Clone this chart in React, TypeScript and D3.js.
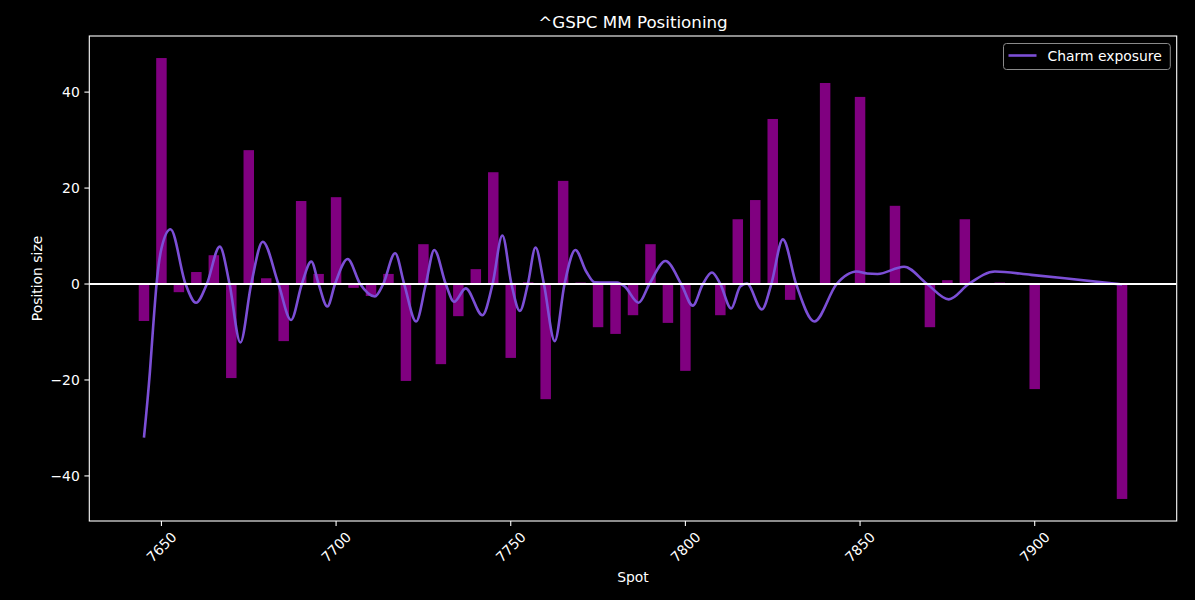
import React from 'react';
import * as d3 from 'd3';

// Bars: market-maker position size by strike
const strikes = [
  7645, 7650, 7655, 7660, 7665, 7670, 7675, 7680, 7685, 7690, 7695, 7700,
  7705, 7710, 7715, 7720, 7725, 7730, 7735, 7740, 7745, 7750, 7755, 7760,
  7765, 7770, 7775, 7780, 7785, 7790, 7795, 7800, 7810, 7815, 7820, 7825,
  7830, 7840, 7850, 7860, 7870, 7875, 7880, 7890, 7900, 7925,
];
const positions = [
  -7.7, 47.1, -1.7, 2.5, 6.0, -19.6, 27.9, 1.2, -11.9, 17.3, 2.1, 18.1,
  -0.8, -2.5, 2.1, -20.2, 8.3, -16.7, -6.7, 3.1, 23.3, -15.4, 0.35, -24.0,
  21.5, 0.3, -9.0, -10.4, -6.5, 8.3, -8.1, -18.1, -6.5, 13.5, 17.5, 34.4,
  -3.3, 41.9, 39.0, 16.3, -9.0, 0.8, 13.5, 0.3, -21.9, -44.8,
];

// Charm exposure curve
const charmSpot = [
  7645, 7646.7, 7647.6, 7648.6, 7650, 7652.6, 7656.9, 7659.9, 7663.0, 7666.7,
  7669.5, 7672.6, 7675.7, 7679.0, 7683.5, 7687.1, 7690.2, 7692.9, 7695.0, 7697.5,
  7699.7, 7703.3, 7706.9, 7711.1, 7713.5, 7716.9, 7719.5, 7722.9, 7725.7, 7728.1,
  7731.4, 7733.8, 7737.1, 7741.9, 7744.8, 7747.6, 7750.2, 7752.6, 7754.9, 7757.1,
  7759.5, 7762.6, 7765.4, 7768.5, 7771.6, 7774.0, 7777.5, 7780.5, 7782.6, 7786.6,
  7789.7, 7794.3, 7798.8, 7802.1, 7805.0, 7807.6, 7810.0, 7813.1, 7815.7, 7817.6,
  7821.9, 7824.6, 7827.9, 7831.7, 7836.9, 7843.3, 7846.2, 7849.0, 7852.0, 7855.0,
  7862.6, 7869.2, 7875.4, 7881.1, 7888.6, 7899.0, 7908.6, 7925.0,
];
const charmValue = [
  -32.0, -18.3, -9.2, 0, 7.4, 11.4, 0, -3.9, 0, 7.8,
  0, -12.2, 0, 8.8, 0, -7.5, 0, 4.7, 0, -4.7,
  0, 5.2, 0, -2.6, 0, 6.4, 0, -7.8, 0, 7.1,
  0, -3.7, -0.9, -6.5, 0, 10.1, 0, -5.6, 0, 7.6,
  0, -11.9, 0, 7.1, 2.6, 0.35, 0.3, 0.3, -0.5, -3.9,
  0, 4.8, 0, -4.5, 0, 2.4, 0, -5.1, -0.5, 0.1,
  -5.3, 0, 9.3, 0, -7.8, 0, 1.9, 2.6, 2.2, 2.1,
  3.6, 0, -3.2, 0, 2.6, 1.9, 1.2, -0.1,
];

const xTicks = [7650, 7700, 7750, 7800, 7850, 7900];
const yTicks = [-40, -20, 0, 20, 40];

const titleText = '^GSPC MM Positioning';
const xLabel = 'Spot';
const yLabel = 'Position size';
const legendLabel = 'Charm exposure';

const W = 1195;
const H = 600;
const FONT = '"DejaVu Sans", sans-serif';
const BAR_COLOR = '#800080';
const LINE_COLOR = '#7c4fd6';

const fmt = (v: number) => (v < 0 ? `\u2212${Math.abs(v)}` : `${v}`);

export default function App() {
  const plot = { left: 89.3, right: 1176.7, top: 36, bottom: 521 };
  const barW = 3;

  const xMin = (d3.min(strikes) as number) - barW / 2;
  const xMax = (d3.max(strikes) as number) + barW / 2;
  const xPad = (xMax - xMin) * 0.05;
  const x = d3.scaleLinear().domain([xMin - xPad, xMax + xPad]).range([plot.left, plot.right]);

  const allY = [...positions, ...charmValue, 0];
  const yMin = d3.min(allY) as number;
  const yMax = d3.max(allY) as number;
  const yPad = (yMax - yMin) * 0.05;
  const y = d3.scaleLinear().domain([yMin - yPad, yMax + yPad]).range([plot.bottom, plot.top]);

  const pts: [number, number][] = charmSpot.map((s, i) => [s, charmValue[i]]);
  const line = d3
    .line<[number, number]>()
    .x((d) => x(d[0]))
    .y((d) => y(d[1]))
    .curve(d3.curveMonotoneX);

  const cx = (plot.left + plot.right) / 2;
  const cy = (plot.top + plot.bottom) / 2;

  return (
    <div style={{ position: 'fixed', left: 0, top: 0, width: W, height: H, background: '#000' }}>
      <svg width={W} height={H} style={{ display: 'block', fontFamily: FONT }}>
        <rect x={0} y={0} width={W} height={H} fill="#000" />
        <defs>
          <clipPath id="plotClip">
            <rect x={plot.left} y={plot.top} width={plot.right - plot.left} height={plot.bottom - plot.top} />
          </clipPath>
        </defs>
        <g clipPath="url(#plotClip)">
          {strikes.map((s, i) => {
            const v = positions[i];
            const x0 = x(s - barW / 2);
            const x1 = x(s + barW / 2);
            const ya = y(Math.max(0, v));
            const yb = y(Math.min(0, v));
            return <rect key={s} x={x0} y={ya} width={x1 - x0} height={yb - ya} fill={BAR_COLOR} />;
          })}
          <path d={line(pts) || ''} fill="none" stroke={LINE_COLOR} strokeWidth={2.6} strokeLinejoin="round" strokeLinecap="butt" />
          <line x1={plot.left} x2={plot.right} y1={y(0)} y2={y(0)} stroke="#fff" strokeWidth={2} />
        </g>

        {/* spines */}
        <rect x={plot.left} y={plot.top} width={plot.right - plot.left} height={plot.bottom - plot.top} fill="none" stroke="#fff" strokeWidth={1.1} />

        {/* x ticks */}
        {xTicks.map((t) => (
          <g key={t}>
            <line x1={x(t)} x2={x(t)} y1={plot.bottom} y2={plot.bottom + 4.9} stroke="#fff" strokeWidth={1.1} />
            <text
              transform={`translate(${x(t)},${plot.bottom + 26}) rotate(-45)`}
              textAnchor="middle"
              dominantBaseline="central"
              fill="#fff"
              fontSize={13.9}
            >
              {t}
            </text>
          </g>
        ))}

        {/* y ticks */}
        {yTicks.map((t) => (
          <g key={t}>
            <line x1={plot.left - 4.9} x2={plot.left} y1={y(t)} y2={y(t)} stroke="#fff" strokeWidth={1.1} />
            <text x={plot.left - 9.5} y={y(t)} textAnchor="end" dominantBaseline="central" fill="#fff" fontSize={13.9}>
              {fmt(t)}
            </text>
          </g>
        ))}

        <text x={cx} y={22} textAnchor="middle" dominantBaseline="central" fill="#fff" fontSize={16.7}>
          {titleText}
        </text>
        <text x={cx} y={577} textAnchor="middle" dominantBaseline="central" fill="#fff" fontSize={13.9}>
          {xLabel}
        </text>
        <text
          transform={`translate(37,${cy}) rotate(-90)`}
          textAnchor="middle"
          dominantBaseline="central"
          fill="#fff"
          fontSize={13.9}
        >
          {yLabel}
        </text>

        {/* legend */}
        <g>
          <rect x={1003.5} y={43.5} width={166.8} height={26} rx={3} ry={3} fill="#000" fillOpacity={0.8} stroke="#8a8a8a" strokeWidth={1} />
          <line x1={1008.5} x2={1036.5} y1={55.5} y2={55.5} stroke={LINE_COLOR} strokeWidth={2.6} />
          <text x={1047.5} y={55.5} dominantBaseline="central" fill="#fff" fontSize={13.9}>
            {legendLabel}
          </text>
        </g>
      </svg>
    </div>
  );
}
